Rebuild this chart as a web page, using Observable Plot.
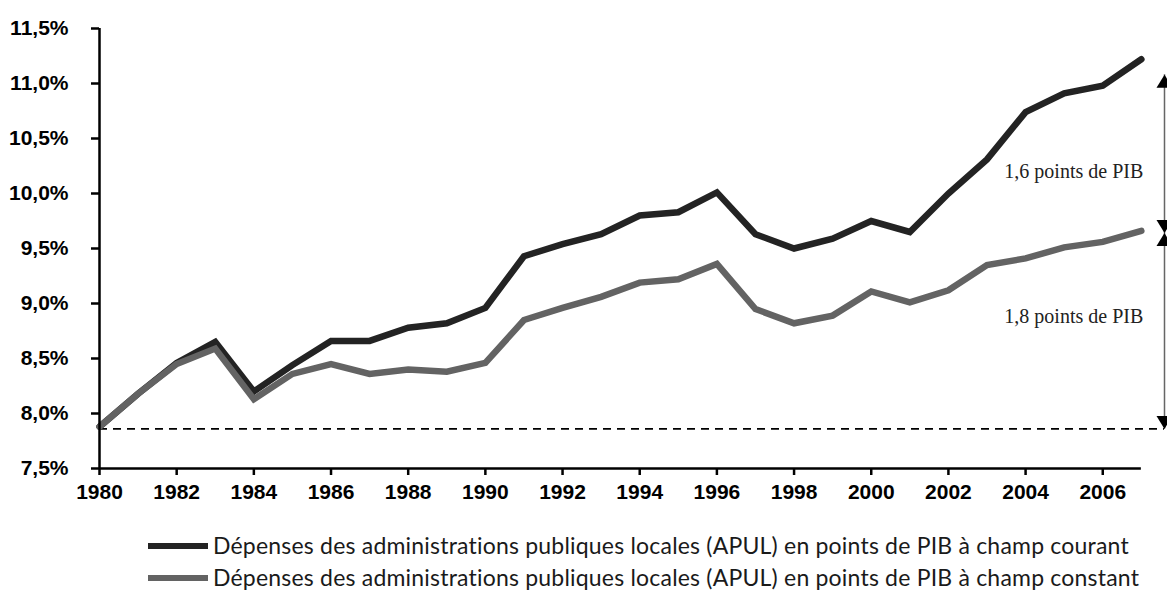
<!DOCTYPE html>
<html>
<head>
<meta charset="utf-8">
<script src="https://cdn.jsdelivr.net/npm/d3@7"></script>
<script src="https://cdn.jsdelivr.net/npm/@observablehq/plot@0.6"></script>
<style>
  body { margin: 0; background: white; }
  #wrap { position: relative; width: 1167px; height: 598px; overflow: hidden; }
  #legend { position: absolute; left: 148px; top: 529px; font-family: Lato, "Open Sans", sans-serif; font-size: 23px; letter-spacing: 0.2px; color: #1a1a1a; }
  .item { display: flex; align-items: center; height: 32px; }
  .sw { width: 60px; height: 6px; margin-right: 5px; margin-top: 2px; }
</style>
</head>
<body>
<div id="wrap"><div id="chart"></div><div id="legend"></div></div>
<script>
const years = [1980,1981,1982,1983,1984,1985,1986,1987,1988,1989,1990,1991,1992,1993,1994,1995,1996,1997,1998,1999,2000,2001,2002,2003,2004,2005,2006,2007];
const courant = [7.88,8.18,8.46,8.65,8.20,8.44,8.66,8.66,8.78,8.82,8.96,9.43,9.54,9.63,9.80,9.83,10.01,9.63,9.50,9.59,9.75,9.65,10.00,10.31,10.74,10.91,10.98,11.22];
const constant = [7.88,8.18,8.45,8.59,8.13,8.36,8.45,8.36,8.40,8.38,8.46,8.85,8.96,9.06,9.19,9.22,9.36,8.95,8.82,8.89,9.11,9.01,9.12,9.35,9.41,9.51,9.56,9.66];
const seriesNames = [
  "Dépenses des administrations publiques locales (APUL) en points de PIB à champ courant",
  "Dépenses des administrations publiques locales (APUL) en points de PIB à champ constant"
];
const seriesColors = ["#232323", "#636363"];
const xTicks = [1980,1982,1984,1986,1988,1990,1992,1994,1996,1998,2000,2002,2004,2006];
const yTicks = [7.5,8.0,8.5,9.0,9.5,10.0,10.5,11.0,11.5];
const baseline = 7.86;
const arrowYear = 2007.6;
const arrowLevels = [11.08, 9.64, 7.86];
const annotationLabels = ["1,6 points de PIB", "1,8 points de PIB"];

const dataCourant = years.map((year, i) => ({year, value: courant[i]}));
const dataConstant = years.map((year, i) => ({year, value: constant[i]}));

const triangle = {
  draw(context, l, r) {
    context.moveTo(-8, 0);
    context.lineTo(8, 0);
    context.lineTo(0, -l);
    context.closePath();
  }
};
const heads = [
  {y: arrowLevels[0], rotate: 0},
  {y: arrowLevels[1], rotate: 180},
  {y: arrowLevels[1], rotate: 0},
  {y: arrowLevels[2], rotate: 180}
];

const serif = "'Liberation Serif', 'Times New Roman', serif";

const chart = Plot.plot({
  width: 1167,
  height: 520,
  marginLeft: 99,
  marginRight: 3,
  marginTop: 28,
  marginBottom: 52,
  x: {domain: [1980, arrowYear], label: null},
  y: {domain: [7.5, 11.5], label: null},
  style: {fontFamily: "'Liberation Sans', Arial, sans-serif", fontSize: "21px", fontWeight: "bold", color: "#000", background: "white", overflow: "visible"},
  marks: [
    Plot.ruleY([baseline], {x1: 1980, x2: arrowYear, stroke: "#000", strokeWidth: 1.6, strokeDasharray: "8,6"}),
    Plot.ruleX([arrowYear], {y1: arrowLevels[0], y2: arrowLevels[2], stroke: "#666", strokeWidth: 1.5}),
    Plot.vector(heads, {x: arrowYear, y: "y", rotate: "rotate", length: 13, anchor: "end", shape: triangle, fill: "#000", stroke: "none"}),
    Plot.line(dataCourant, {x: "year", y: "value", stroke: seriesColors[0], strokeWidth: 6.5, strokeLinejoin: "miter", strokeMiterlimit: 3}),
    Plot.line(dataConstant, {x: "year", y: "value", stroke: seriesColors[1], strokeWidth: 6.5, strokeLinejoin: "miter", strokeMiterlimit: 3}),
    Plot.axisY({ticks: yTicks, tickFormat: d => d.toFixed(1).replace(".", ",") + "%", tickSize: 8, tickPadding: 23, strokeWidth: 2.5, label: null}),
    Plot.axisX({ticks: xTicks, tickFormat: d => String(d), tickSize: 7, tickPadding: 9, strokeWidth: 2.5, label: null}),
    Plot.ruleX([1980], {y1: 7.5, y2: 11.5, stroke: "#000", strokeWidth: 2.5}),
    Plot.ruleY([7.5], {x1: 1980, x2: 2007, stroke: "#000", strokeWidth: 2.5}),
    Plot.text([annotationLabels[0]], {x: 2007.05, y: 10.2, text: d => d, textAnchor: "end", fontFamily: serif, fontWeight: "normal", fontSize: 20, fill: "#222"}),
    Plot.text([annotationLabels[1]], {x: 2007.05, y: 8.88, text: d => d, textAnchor: "end", fontFamily: serif, fontWeight: "normal", fontSize: 20, fill: "#222"})
  ]
});
document.getElementById("chart").appendChild(chart);

const legend = document.getElementById("legend");
seriesNames.forEach((name, i) => {
  const item = document.createElement("div");
  item.className = "item";
  const sw = document.createElement("span");
  sw.className = "sw";
  sw.style.background = seriesColors[i];
  const label = document.createElement("span");
  label.textContent = name;
  item.appendChild(sw);
  item.appendChild(label);
  legend.appendChild(item);
});
</script>
</body>
</html>
